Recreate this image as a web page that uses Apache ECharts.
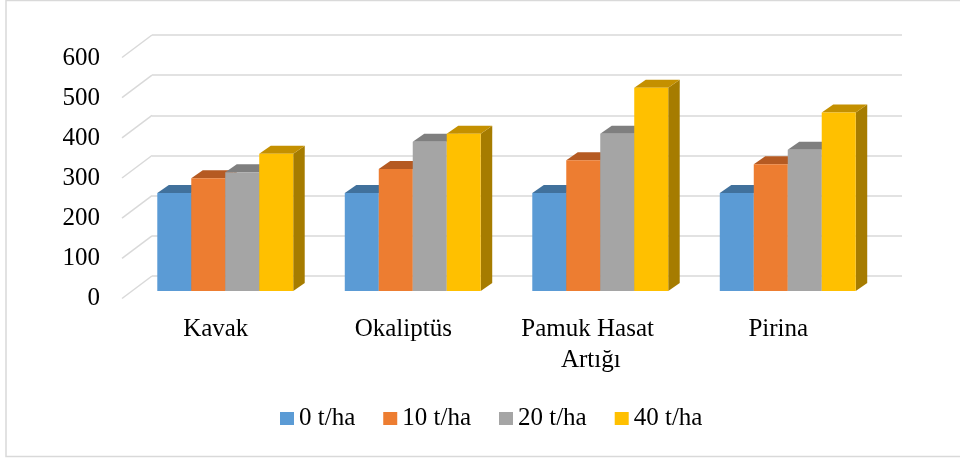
<!DOCTYPE html>
<html>
<head>
<meta charset="utf-8">
<title>Verim</title>
<script src="https://cdn.jsdelivr.net/npm/echarts@6/dist/echarts.min.js"></script>
<style>
  html, body { margin: 0; padding: 0; background: #fff; }
  #chart { width: 960px; height: 459px; }
</style>
</head>
<body>
<div id="chart"></div>
<script>
// Categories and series values
const categories = ['Kavak', 'Okaliptüs', 'Pamuk Hasat Artığı', 'Pirina'];
const seriesNames = ['0 t/ha', '10 t/ha', '20 t/ha', '40 t/ha'];
const values0 = [245, 245, 245, 245];
const values10 = [282, 305, 327, 317];
const values20 = [297, 373, 393, 353];
const values40 = [343, 393, 508, 446];
const yTicks = [0, 100, 200, 300, 400, 500, 600];

const seriesValues = [values0, values10, values20, values40];

// Face colours of each column: front, top, right side
const faces = [
  { front: '#5B9BD5', top: '#41719C', side: '#3A6690' },
  { front: '#ED7D31', top: '#B55A22', side: '#A5511E' },
  { front: '#A5A5A5', top: '#7F7F7F', side: '#737373' },
  { front: '#FFC000', top: '#C49000', side: '#A67C00' }
];

// Oblique depth of a column and of the floor
const DEPTH_X = 11.5, DEPTH_Y = -8;
const FLOOR_X = -30, FLOOR_Y = 22.5;
const GROUP_FILL = 0.725;
const FONT = '"Liberation Serif", "Times New Roman", serif';

function columnRenderer(k, n) {
  return function (params, api) {
    const cat = api.value(0);
    const v = api.value(1);
    const top = api.coord([cat, v]);
    const base = api.coord([cat, 0]);
    const band = api.size([1, 0])[0];
    const bw = band * GROUP_FILL / n;
    const x0 = top[0] - band * GROUP_FILL / 2 + k * bw;
    const x1 = x0 + bw;
    const yt = top[1], yb = base[1];
    const c = faces[k];
    return {
      type: 'group',
      children: [
        { type: 'polygon', shape: { points: [[x1, yt], [x1 + DEPTH_X, yt + DEPTH_Y], [x1 + DEPTH_X, yb + DEPTH_Y], [x1, yb]] }, style: { fill: c.side } },
        { type: 'polygon', shape: { points: [[x0, yt], [x1, yt], [x1 + DEPTH_X, yt + DEPTH_Y], [x0 + DEPTH_X, yt + DEPTH_Y]] }, style: { fill: c.top } },
        { type: 'rect', shape: { x: x0, y: yt, width: bw, height: yb - yt }, style: { fill: c.front } }
      ]
    };
  };
}

const chart = echarts.init(document.getElementById('chart'), null, { renderer: 'canvas' });

const columnSeries = seriesValues.map((vals, k) => ({
  name: seriesNames[k],
  type: 'custom',
  xAxisIndex: 1,
  yAxisIndex: 1,
  itemStyle: { color: faces[k].front },
  renderItem: columnRenderer(k, seriesValues.length),
  encode: { x: 0, y: 1 },
  data: vals.map((v, i) => [i, v]),
  z: 3
}));

chart.setOption({
  animation: false,
  graphic: [{
    type: 'rect',
    shape: { x: 6, y: 0.5, width: 960, height: 456 },
    style: { fill: 'none', stroke: '#d9d9d9', lineWidth: 1.5 },
    silent: true
  }],
  legend: {
    data: seriesNames,
    left: 280,
    top: 406,
    padding: 0,
    itemGap: 28,
    itemWidth: 14,
    itemHeight: 13,
    icon: 'rect',
    textStyle: { fontFamily: FONT, fontSize: 25, color: '#000', lineHeight: 25 }
  },
  grid: [
    // back wall
    { left: 152, right: 58, top: 35, bottom: 183 },
    // front face of the columns
    { left: 131.5, right: 78.5, top: 51, bottom: 168 },
    // front edge of the floor, carries the labels
    { left: 122, right: 88, top: 58, bottom: 161 }
  ],
  xAxis: [
    { gridIndex: 0, type: 'value', min: 0, max: 1, show: false },
    { gridIndex: 1, type: 'category', data: categories, show: false },
    {
      gridIndex: 2, type: 'category', data: categories,
      axisLine: { show: false }, axisTick: { show: false },
      axisLabel: {
        margin: 15.5, fontFamily: FONT, fontSize: 25, color: '#000',
        lineHeight: 31, width: 160, overflow: 'break', interval: 0
      }
    }
  ],
  yAxis: [
    {
      gridIndex: 0, type: 'value', min: 0, max: 600, interval: 100,
      axisLine: { show: false }, axisTick: { show: false }, axisLabel: { show: false },
      splitLine: { show: true, lineStyle: { color: '#d9d9d9', width: 1.5 } }
    },
    { gridIndex: 1, type: 'value', min: 0, max: 600, interval: 100, show: false },
    {
      gridIndex: 2, type: 'value', min: 0, max: 600, interval: 100,
      axisLine: { show: false }, axisTick: { show: false }, splitLine: { show: false },
      axisLabel: { margin: 22, fontFamily: FONT, fontSize: 25, color: '#000' }
    }
  ],
  series: [
    {
      // floor lines running from the back wall to the front edge
      type: 'custom',
      xAxisIndex: 0,
      yAxisIndex: 0,
      silent: true,
      encode: { x: 0, y: 1 },
      data: yTicks.map(v => [0, v]),
      renderItem: function (params, api) {
        const p = api.coord([0, api.value(1)]);
        return {
          type: 'line',
          shape: { x1: p[0], y1: p[1], x2: p[0] + FLOOR_X, y2: p[1] + FLOOR_Y },
          style: { stroke: '#d9d9d9', lineWidth: 1.5 }
        };
      },
      z: 1
    }
  ].concat(columnSeries)
});
</script>
</body>
</html>
